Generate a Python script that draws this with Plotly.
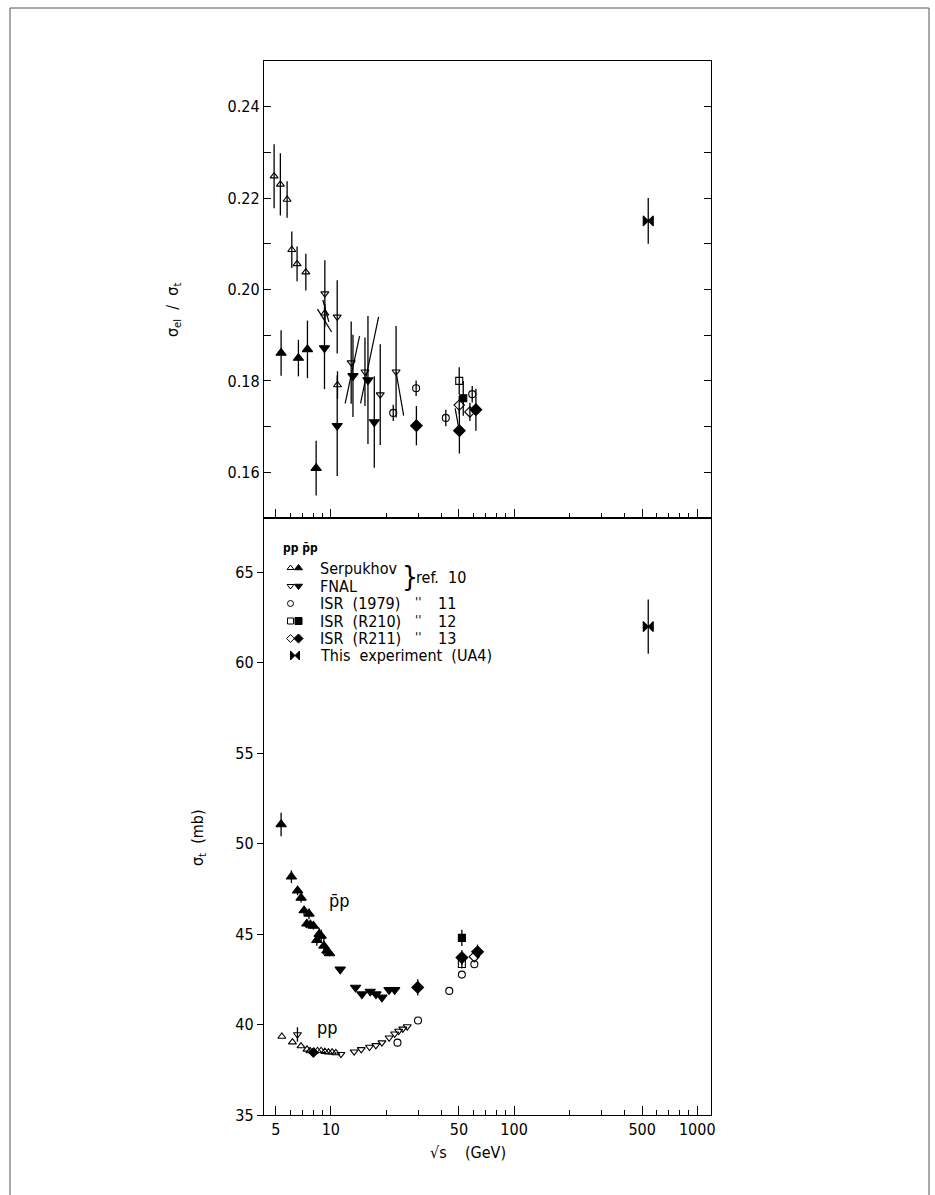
import plotly.graph_objects as go

FONT = "Liberation Sans Narrow, DejaVu Sans Condensed, DejaVu Sans, sans-serif"

# ---------------- data: top panel (sigma_el / sigma_t) ----------------
serp_pp_r_x = [4.9, 5.3, 5.77, 6.12, 6.54, 7.3, 9.27, 10.87]
serp_pp_r_y = [0.2248, 0.223, 0.2197, 0.2087, 0.2056, 0.2038, 0.1948, 0.1791]
serp_pp_r_e = [0.007, 0.0068, 0.004, 0.004, 0.0038, 0.004, 0.002, 0.003]

serp_pbp_r_x = [5.35, 6.65, 7.45, 8.31]
serp_pbp_r_y = [0.1861, 0.185, 0.1869, 0.1609]
serp_pbp_r_e = [0.005, 0.004, 0.0063, 0.006]

fnal_pp_r_x = [9.27, 10.83, 12.91, 15.35, 18.6, 22.7]
fnal_pp_r_y = [0.1991, 0.194, 0.184, 0.182, 0.177, 0.182]
fnal_pp_r_e = [0.0073, 0.008, 0.009, 0.0075, 0.011, 0.01]

fnal_pbp_r_x = [9.23, 10.83, 13.2, 15.94, 17.26]
fnal_pbp_r_y = [0.1872, 0.1702, 0.1811, 0.1802, 0.171]
fnal_pbp_r_e = [0.009, 0.011, 0.009, 0.014, 0.010]

isr79_r_x = [21.9, 29.2, 42.4, 59.1]
isr79_r_y = [0.173, 0.1784, 0.1719, 0.1771]
isr79_r_e = [0.0018, 0.0017, 0.0018, 0.0018]

r210_pp_r_x = [50.2]
r210_pp_r_y = [0.180]
r210_pp_r_e = [0.003]
r210_pbp_r_x = [52.8]
r210_pbp_r_y = [0.1762]
r210_pbp_r_e = [0.0038]

r211_pp_r_x = [50.2, 57.4]
r211_pp_r_y = [0.1747, 0.1732]
r211_pp_r_e = [0.002, 0.002]
r211_pbp_r_x = [29.3, 50.3, 61.9]
r211_pbp_r_y = [0.1702, 0.1691, 0.1737]
r211_pbp_r_e = [0.0043, 0.005, 0.0046]

ua4_x = [540]
ua4_r_y = [0.215]
ua4_r_e = [0.005]

# slanted range lines in the top panel: (sqrt_s0, ratio0, sqrt_s1, ratio1)
range_lines = [
    (8.45, 0.1957, 10.1, 0.1907),
    (9.04, 0.1977, 9.75, 0.1929),
    (11.97, 0.1751, 14.34, 0.1898),
    (14.52, 0.1751, 18.22, 0.1940),
    (22.69, 0.1820, 24.97, 0.1724),
    (47.7, 0.1740, 50.2, 0.1691),
]

# ---------------- data: bottom panel (sigma_tot, mb) ----------------
serp_pbp_t_x = [5.35, 6.09, 6.58, 6.88, 7.14, 7.6, 7.39, 7.73, 8.03, 8.38, 8.63, 8.85, 9.16, 9.51, 9.83]
serp_pbp_t_y = [51.06, 48.17, 47.40, 47.0, 46.3, 46.12, 45.57, 45.52, 45.45, 44.66, 45.0, 44.9, 44.35, 44.08, 43.93]
serp_pbp_t_e = [0.65, 0.35, 0.25, 0.25, 0.25, 0.3, 0.25, 0.2, 0.2, 0.3, 0.35, 0.35, 0.5, 0.2, 0.15]

fnal_pbp_t_x = [11.25, 13.64, 14.78, 16.4, 17.63, 19.0, 20.77, 22.3]
fnal_pbp_t_y = [43.05, 42.05, 41.68, 41.83, 41.68, 41.5, 41.92, 41.92]

serp_pp_t_x = [5.4, 6.17, 6.87, 7.41, 7.7, 8.1, 8.45, 8.85, 9.27, 9.7, 10.16, 10.64]
serp_pp_t_y = [39.34, 39.03, 38.81, 38.63, 38.54, 38.5, 38.55, 38.55, 38.5, 38.47, 38.47, 38.43]

fnal_pp_t_x = [6.57, 11.35, 13.4, 14.65, 16.25, 17.6, 19.0, 20.8, 22.3, 23.45, 24.7, 26.1]
fnal_pp_t_y = [39.45, 38.36, 38.5, 38.63, 38.76, 38.85, 39.0, 39.27, 39.49, 39.64, 39.76, 39.89]
fnal_pp_t_e = [0.4, 0, 0, 0, 0, 0, 0, 0, 0, 0, 0, 0]

extra_t_x = [8.03]
extra_t_y = [38.45]

isr79_t_x = [23.1, 29.9, 44.3, 51.9, 60.7]
isr79_t_y = [39.0, 40.22, 41.86, 42.76, 43.33]

r210_pp_t_x = [51.9]
r210_pp_t_y = [43.35]
r210_pp_t_e = [0.25]
r210_pbp_t_x = [51.9]
r210_pbp_t_y = [44.79]
r210_pbp_t_e = [0.45]

r211_pp_t_x = [60.7]
r211_pp_t_y = [43.75]
r211_pbp_t_x = [29.8, 51.9, 63.2]
r211_pbp_t_y = [42.05, 43.7, 44.02]
r211_pbp_t_e = [0.45, 0.4, 0.4]

ua4_t_y = [62.0]
ua4_t_e = [1.5]

# ---------------- axes / tick labels ----------------
x_tickvals = [5, 10, 50, 100, 500, 1000]
x_ticktext = ["5", "10", "50", "100", "500", "1000"]
x_minor = [6, 7, 8, 9, 20, 30, 40, 60, 70, 80, 90, 200, 300, 400, 600, 700, 800, 900]
ytop_tickvals = [0.16, 0.18, 0.20, 0.22, 0.24]
ytop_ticktext = ["0.16", "0.18", "0.20", "0.22", "0.24"]
ytop_minor = [0.17, 0.19, 0.21, 0.23]
ybot_tickvals = [35, 40, 45, 50, 55, 60, 65]

# ---------------- geometry ----------------
W, H = 935, 1195
L, R, T, B = 264, 711, 61, 1115
SPLIT = 518
XLOG = [0.635, 3.075]
Y_TOP = [0.15, 0.25]
Y_BOT = [35, 68]


def xp(px):
    return (px - L) / (R - L)


def yp(py):
    return (B - py) / (B - T)


def xd(px):
    return 10 ** (XLOG[0] + (px - L) / (R - L) * (XLOG[1] - XLOG[0]))


def ybd(py):
    return Y_BOT[0] + (B - py) / (B - SPLIT) * (Y_BOT[1] - Y_BOT[0])


fig = go.Figure()


def add(x, y, e, sym, size, top):
    ax = dict(xaxis="x2", yaxis="y2") if top else dict(xaxis="x", yaxis="y")
    err = dict(type="data", array=e, visible=True, width=0, thickness=1.3,
               color="black") if e is not None else dict(visible=False)
    fig.add_trace(go.Scatter(
        x=x, y=y, mode="markers", **ax,
        marker=dict(symbol=sym, size=size, color="black",
                    line=dict(color="black", width=1.1)),
        error_y=err, showlegend=False, hoverinfo="skip"))


# range lines (top)
for (a0, b0, a1, b1) in range_lines:
    fig.add_trace(go.Scatter(x=[a0, a1], y=[b0, b1], mode="lines", xaxis="x2", yaxis="y2",
                             line=dict(color="black", width=1.2), showlegend=False,
                             hoverinfo="skip"))

# top panel
add(serp_pp_r_x, serp_pp_r_y, serp_pp_r_e, "triangle-up-open", 7, True)
add(serp_pbp_r_x, serp_pbp_r_y, serp_pbp_r_e, "triangle-up", 9, True)
add(fnal_pp_r_x, fnal_pp_r_y, fnal_pp_r_e, "triangle-down-open", 7, True)
add(fnal_pbp_r_x, fnal_pbp_r_y, fnal_pbp_r_e, "triangle-down", 9, True)
add(isr79_r_x, isr79_r_y, isr79_r_e, "circle-open", 7, True)
add(r210_pp_r_x, r210_pp_r_y, r210_pp_r_e, "square-open", 7, True)
add(r210_pbp_r_x, r210_pbp_r_y, r210_pbp_r_e, "square", 7, True)
add(r211_pp_r_x, r211_pp_r_y, r211_pp_r_e, "diamond-open", 8, True)
add(r211_pbp_r_x, r211_pbp_r_y, r211_pbp_r_e, "diamond", 9, True)
add(ua4_x, ua4_r_y, ua4_r_e, "bowtie", 10, True)

# bottom panel
add(serp_pp_t_x, serp_pp_t_y, None, "triangle-up-open", 7, False)
add(fnal_pp_t_x, fnal_pp_t_y, fnal_pp_t_e, "triangle-down-open", 7, False)
add(extra_t_x, extra_t_y, None, "diamond", 7, False)
add(isr79_t_x, isr79_t_y, None, "circle-open", 7, False)
add(r210_pp_t_x, r210_pp_t_y, r210_pp_t_e, "square-open", 7, False)
add(r211_pp_t_x, r211_pp_t_y, None, "diamond-open", 8, False)
add(serp_pbp_t_x, serp_pbp_t_y, serp_pbp_t_e, "triangle-up", 9, False)
add(fnal_pbp_t_x, fnal_pbp_t_y, None, "triangle-down", 9, False)
add(r210_pbp_t_x, r210_pbp_t_y, r210_pbp_t_e, "square", 7, False)
add(r211_pbp_t_x, r211_pbp_t_y, r211_pbp_t_e, "diamond", 9, False)
add(ua4_x, ua4_t_y, ua4_t_e, "bowtie", 10, False)

# legend markers (bottom panel, positioned in pixels)
leg_rows = [568, 586, 603.5, 621, 638.5, 655.5]
leg_open = ["triangle-up-open", "triangle-down-open", "circle-open", "square-open", "diamond-open", None]
leg_fill = ["triangle-up", "triangle-down", None, "square", "diamond", "bowtie"]
for row, so, sf in zip(leg_rows, leg_open, leg_fill):
    if so:
        fig.add_trace(go.Scatter(x=[xd(290.5)], y=[ybd(row)], mode="markers",
                                 marker=dict(symbol=so, size=6, color="black",
                                             line=dict(color="black", width=1)),
                                 showlegend=False, hoverinfo="skip"))
    if sf:
        px = 298.5 if sf != "bowtie" else 295
        fig.add_trace(go.Scatter(x=[xd(px)], y=[ybd(row)], mode="markers",
                                 marker=dict(symbol=sf, size=7 if sf != "bowtie" else 9,
                                             color="black", line=dict(color="black", width=1)),
                                 showlegend=False, hoverinfo="skip"))

ann = []


def text(px, py, s, size=15, xanchor="left", angle=0):
    ann.append(dict(x=xp(px), y=yp(py), xref="paper", yref="paper", text=s,
                    showarrow=False, xanchor=xanchor, yanchor="middle", textangle=angle,
                    font=dict(family=FONT, size=size, color="black")))


text(281, 548, "<b>pp p\u0304p</b>", 12)
text(318, leg_rows[0], "Serpukhov", 16)
text(318, leg_rows[1], "FNAL", 16)
text(318, leg_rows[2], "ISR  (1979)", 16)
text(318, leg_rows[3], "ISR  (R210)", 16)
text(318, leg_rows[4], "ISR  (R211)", 16)
text(318, leg_rows[5], "This  experiment  (UA4)", 16)
text(400, 577, "}", 28)
text(414, 577, "ref.  10", 16)
for r, n in zip(leg_rows[2:5], ["11", "12", "13"]):
    text(413, r - 2, "''", 13)
    text(436, r, n, 16)

text(339, 900, "p\u0304p", 18, "center")
text(327, 1027, "pp", 18, "center")

text(173, 310, "\u03c3<sub>el</sub>  /  \u03c3<sub>t</sub>", 16, "center", -90)
text(198, 838, "\u03c3<sub>t</sub>  (mb)", 16, "center", -90)
text(468, 1152, "\u221as    (GeV)", 16, "center")

fig.update_layout(
    width=W, height=H,
    margin=dict(l=L, r=W - R, t=T, b=H - B, pad=0),
    paper_bgcolor="white", plot_bgcolor="white",
    font=dict(family=FONT, size=16, color="black"),
    annotations=ann,
    shapes=[dict(type="rect", xref="paper", yref="paper",
                 x0=xp(10), x1=xp(929), y0=yp(1230), y1=yp(8),
                 line=dict(color="#555555", width=1))],
    xaxis=dict(type="log", range=XLOG, domain=[0, 1], anchor="y",
               tickvals=x_tickvals, ticktext=x_ticktext, ticks="inside", ticklen=9,
               tickwidth=1.2, tickcolor="black",
               minor=dict(tickvals=x_minor, ticks="inside", ticklen=5, tickwidth=1.2,
                          tickcolor="black"),
               showline=True, linecolor="black", linewidth=1.3, mirror=True,
               showgrid=False, zeroline=False, tickfont=dict(size=16)),
    yaxis=dict(range=Y_BOT, domain=[0, yp(SPLIT)], anchor="x",
               tickvals=ybot_tickvals, ticks="outside", ticklen=6, tickwidth=1.2,
               tickcolor="black", showline=True, linecolor="black", linewidth=1.3,
               mirror=True, showgrid=False, zeroline=False, tickfont=dict(size=16)),
    xaxis2=dict(type="log", range=XLOG, domain=[0, 1], anchor="y2",
                tickvals=x_tickvals, showticklabels=False, ticks="inside", ticklen=9,
                tickwidth=1.2, tickcolor="black",
                minor=dict(tickvals=x_minor, ticks="inside", ticklen=5, tickwidth=1.2,
                           tickcolor="black"),
                showline=True, linecolor="black", linewidth=1.3, mirror=True,
                showgrid=False, zeroline=False),
    yaxis2=dict(range=Y_TOP, domain=[yp(SPLIT), 1], anchor="x2",
                tickvals=ytop_tickvals, ticktext=ytop_ticktext, ticks="inside",
                ticklen=7, tickwidth=1.2, tickcolor="black",
                minor=dict(tickvals=ytop_minor, ticks="inside", ticklen=7, tickwidth=1.2,
                           tickcolor="black"),
                showline=True, linecolor="black", linewidth=1.3, mirror="ticks",
                showgrid=False, zeroline=False, tickfont=dict(size=16)),
)

fig.write_html("out.html", config={"displayModeBar": False},
               post_script="document.body.style.margin='0';document.body.style.overflow='hidden';")
